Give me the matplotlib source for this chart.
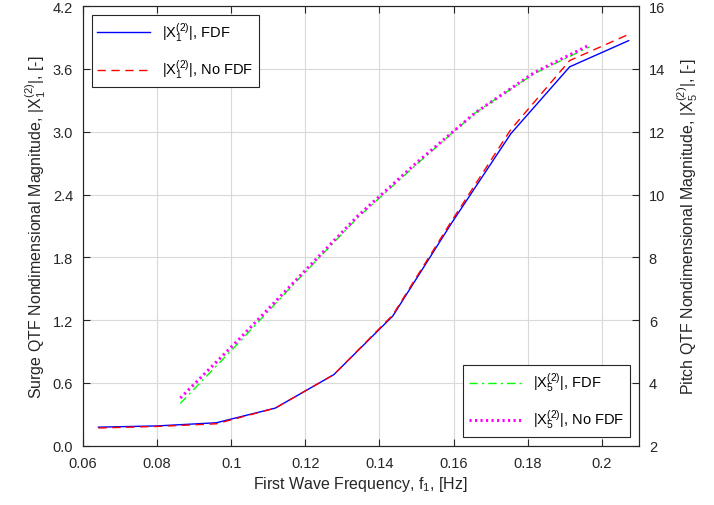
import matplotlib
matplotlib.use("Agg")
import matplotlib.pyplot as plt
from matplotlib.ticker import FixedLocator, FixedFormatter

plt.rcParams['font.family'] = ['Liberation Sans', 'DejaVu Sans']
plt.rcParams['mathtext.fontset'] = 'custom'
plt.rcParams['mathtext.rm'] = 'Liberation Sans'
plt.rcParams['mathtext.it'] = 'Liberation Sans'

# surge (left axis)
f_surge = [0.0642, 0.0801, 0.0960, 0.1119, 0.1277, 0.1436, 0.1595, 0.1754, 0.1913, 0.2072]
surge_fdf = [0.178, 0.19, 0.22, 0.36, 0.68, 1.24, 2.13, 2.98, 3.62, 3.87]
surge_nofdf = [0.17, 0.185, 0.21, 0.36, 0.68, 1.25, 2.15, 3.02, 3.68, 3.93]

# pitch (right axis)
f_pitch = [0.0863, 0.1022, 0.1181, 0.1340, 0.1499, 0.1658, 0.1817, 0.1966]
pitch_fdf = [3.35, 5.3, 7.3, 9.25, 10.95, 12.6, 13.85, 14.7]
pitch_nofdf = [3.52, 5.4, 7.35, 9.3, 11.0, 12.6, 13.88, 14.76]

left_ticks = [0.0, 0.6, 1.2, 1.8, 2.4, 3.0, 3.6, 4.2]
left_labels = ["0.0", "0.6", "1.2", "1.8", "2.4", "3.0", "3.6", "4.2"]
x_ticks = [0.06, 0.08, 0.10, 0.12, 0.14, 0.16, 0.18, 0.20]
x_labels = ["0.06", "0.08", "0.1", "0.12", "0.14", "0.16", "0.18", "0.2"]
right_ticks = [2, 4, 6, 8, 10, 12, 14, 16]

fig = plt.figure(figsize=(7.14, 5.06), dpi=100)
ax = fig.add_axes([0.116, 0.117, 0.779, 0.869])
ax2 = ax.twinx()

l1, = ax.plot(f_surge, surge_fdf, color="#0000ff", lw=1.0, label=r"$|\mathrm{X}_1^{(2)}|$, FDF")
l2, = ax.plot(f_surge, surge_nofdf, color="#ff0000", lw=1.0, ls=(0, (6, 4)), label=r"$|\mathrm{X}_1^{(2)}|$, No FDF")
l3, = ax2.plot(f_pitch, pitch_fdf, color="#00ff00", lw=1.0, ls=(0, (6, 3, 1.5, 3)), label=r"$|\mathrm{X}_5^{(2)}|$, FDF")
l4, = ax2.plot(f_pitch, pitch_nofdf, color="#ff00ff", lw=2.2, ls=(0, (0.7, 1.1)), label=r"$|\mathrm{X}_5^{(2)}|$, No FDF")

ax.set_xlim(0.06, 0.21)
ax.set_ylim(0, 4.2)
ax2.set_ylim(2, 16)
ax.xaxis.set_major_locator(FixedLocator(x_ticks))
ax.xaxis.set_major_formatter(FixedFormatter(x_labels))
ax.yaxis.set_major_locator(FixedLocator(left_ticks))
ax.yaxis.set_major_formatter(FixedFormatter(left_labels))
ax2.set_yticks(right_ticks)

ax.grid(True, color="#d9d9d9", lw=0.8)
ax.set_axisbelow(True)
ax.tick_params(axis='x', direction='in', top=True, length=5, pad=7, labelsize=10.5, colors="#262626")
ax.tick_params(axis='y', direction='in', length=5, pad=7, labelsize=10.5, colors="#262626")
ax2.tick_params(axis='y', direction='in', length=5, pad=7, labelsize=10.5, colors="#262626")
for a in (ax, ax2):
    for s in a.spines.values():
        s.set_color("#262626")

ax.set_xlabel(r"First Wave Frequency, f$_1$, [Hz]", fontsize=11.5, color="#262626", labelpad=3)
ax.set_ylabel(r"Surge QTF Nondimensional Magnitude, $|\mathrm{X}_1^{(2)}|$, [-]", fontsize=11.5, color="#262626", labelpad=3)
ax2.set_ylabel(r"Pitch QTF Nondimensional Magnitude, $|\mathrm{X}_5^{(2)}|$, [-]", fontsize=11.5, color="#262626", labelpad=7)

leg1 = ax2.legend(handles=[l1, l2], loc="upper left", fontsize=10.5, handlelength=3.6,
                  labelspacing=0.95, fancybox=False, edgecolor="#262626", framealpha=1,
                  borderaxespad=0.6)
leg1.get_frame().set_linewidth(0.8)
ax2.add_artist(leg1)
leg2 = ax2.legend(handles=[l3, l4], loc="lower right", fontsize=10.5, handlelength=3.6,
                  labelspacing=0.95, fancybox=False, edgecolor="#262626", framealpha=1,
                  borderaxespad=0.6)
leg2.get_frame().set_linewidth(0.8)

fig.savefig("out.png", dpi=100)
